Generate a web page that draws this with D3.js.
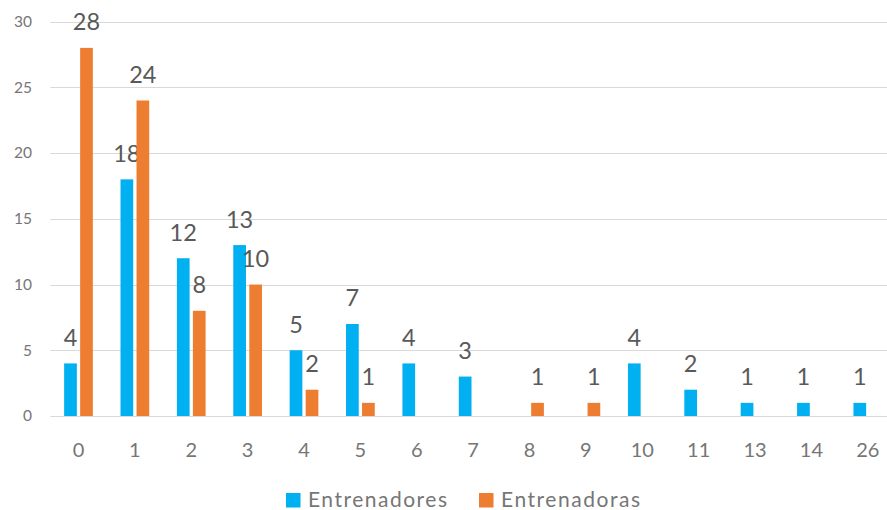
<!DOCTYPE html>
<html>
<head>
<meta charset="utf-8">
<script src="https://cdn.jsdelivr.net/npm/d3@7"></script>
<style>
  html, body { margin: 0; padding: 0; background: #fff; }
  svg { display: block; }
</style>
</head>
<body>
<svg id="chart" width="887" height="510"></svg>
<script>
const categories = ["0","1","2","3","4","5","6","7","8","9","10","11","13","14","26"];
const entrenadores = [4,18,12,13,5,7,4,3,0,0,4,2,1,1,1];
const entrenadoras = [28,24,8,10,2,1,0,0,1,1,0,0,0,0,0];
const seriesNames = ["Entrenadores","Entrenadoras"];
const seriesColors = ["#00B0F0","#ED7D31"];
const yTicks = [0,5,10,15,20,25,30];

(function () {
const svg = d3.select("#chart");
const font = "Lato, 'Open Sans', sans-serif";
const pLeft = 50.3, pRight = 896, pTop = 21.6, pBottom = 416;

const x = d3.scaleBand().domain(categories).range([pLeft, pRight]).paddingInner(0).paddingOuter(0);
const y = d3.scaleLinear().domain([0, 30]).range([pBottom, pTop]);
const barW = 12.7, gap = 3.3;
const groupW = barW * 2 + gap;

// gridlines
svg.append("g").selectAll("line").data(yTicks).join("line")
  .attr("x1", pLeft).attr("x2", 887)
  .attr("y1", d => Math.round(y(d)) + 0.5).attr("y2", d => Math.round(y(d)) + 0.5)
  .attr("stroke", "#d9d9d9").attr("stroke-width", 1);

// y tick labels
svg.append("g").selectAll("text").data(yTicks).join("text")
  .attr("x", 32).attr("y", d => y(d)).attr("dy", "0.35em")
  .attr("text-anchor", "end")
  .attr("font-family", font).attr("font-size", 15.5).attr("fill", "#767676")
  .text(d => d);

// x tick labels
svg.append("g").selectAll("text").data(categories).join("text")
  .attr("x", d => x(d) + x.bandwidth() / 2).attr("y", 457)
  .attr("text-anchor", "middle")
  .attr("font-family", font).attr("font-size", 20).attr("fill", "#767676")
  .text(d => d);

const series = [entrenadores, entrenadoras];
series.forEach((vals, si) => {
  const data = categories.map((c, i) => ({c, v: vals[i]}));
  const off = (x.bandwidth() - groupW) / 2 + si * (barW + gap);
  const g = svg.append("g");
  g.selectAll("rect").data(data.filter(d => d.v > 0)).join("rect")
    .attr("x", d => x(d.c) + off)
    .attr("y", d => y(d.v))
    .attr("width", barW)
    .attr("height", d => y(0) - y(d.v))
    .attr("fill", seriesColors[si]);
  g.selectAll("text").data(data.filter(d => d.v > 0)).join("text")
    .attr("x", d => x(d.c) + off + barW / 2)
    .attr("y", d => y(d.v) - 17.5)
    .attr("text-anchor", "middle")
    .attr("font-family", font).attr("font-size", 23.5).attr("fill", "#595959")
    .text(d => d.v);
});

// legend
const legendX = [286, 479];
seriesNames.forEach((n, i) => {
  svg.append("rect").attr("x", legendX[i]).attr("y", 493).attr("width", 14.5).attr("height", 14.5)
    .attr("fill", seriesColors[i]);
  svg.append("text").attr("x", legendX[i] + 22).attr("y", 507)
    .attr("font-family", font).attr("font-size", 21).attr("fill", "#767676")
    .attr("textLength", 139).attr("lengthAdjust", "spacing")
    .text(n);
});
})();
</script>
</body>
</html>
